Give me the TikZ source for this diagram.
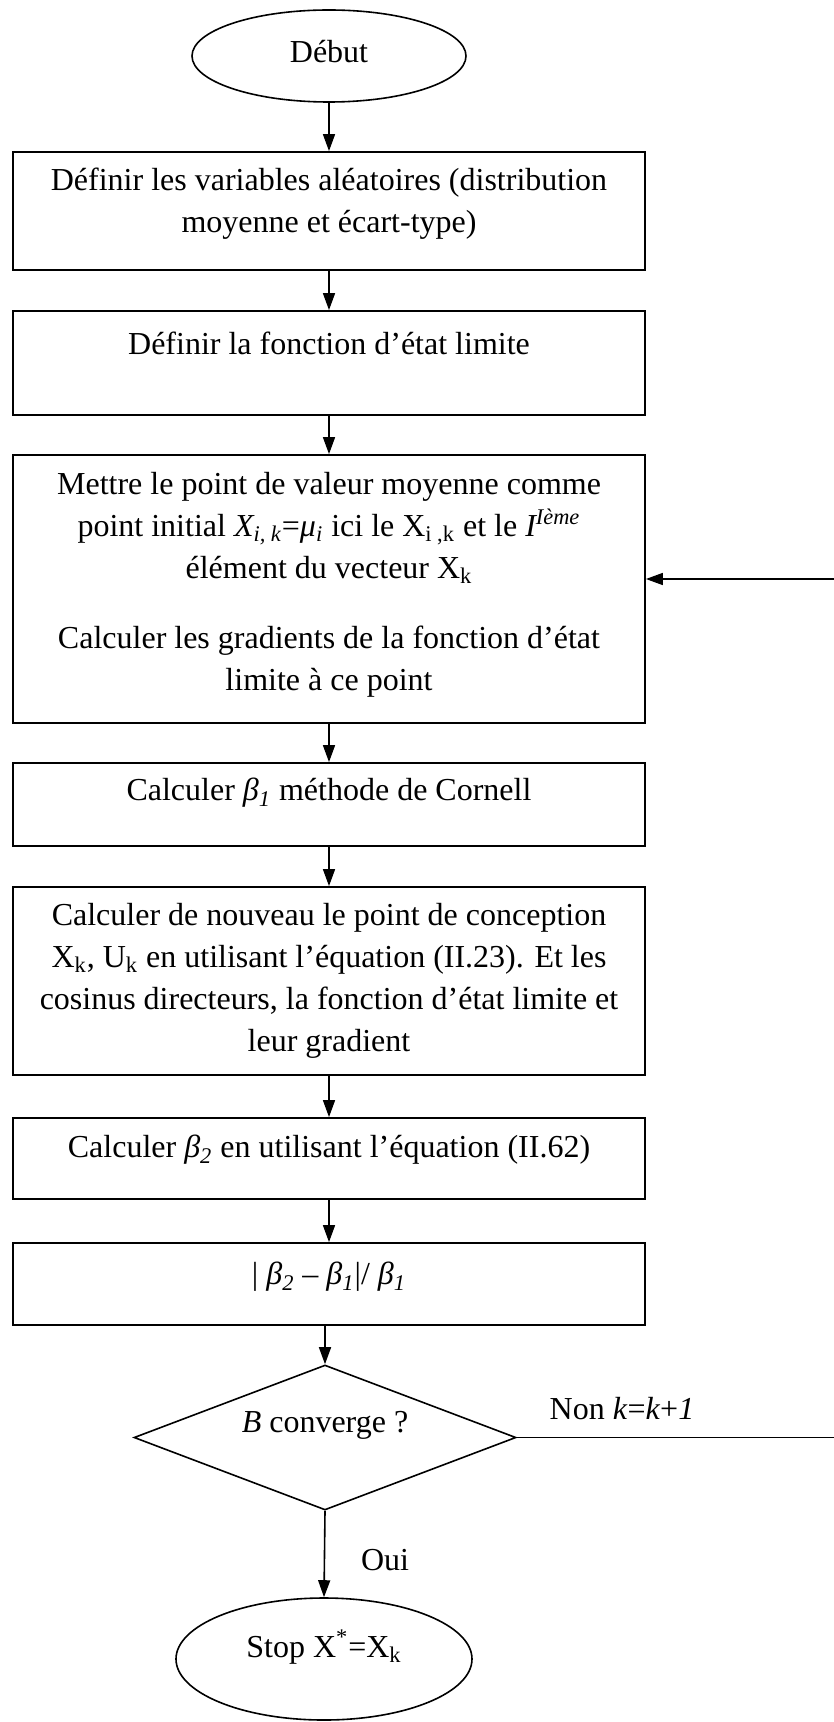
\documentclass[tikz,border=0pt]{standalone}
\usepackage{fontspec}
\setmainfont{Liberation Serif}
\usetikzlibrary{shapes.geometric,arrows.meta}
\begin{document}
\begin{tikzpicture}[x=0.5pt,y=-0.5pt]
\tikzset{
 flowbox/.style={draw, line width=0.9pt, rectangle, inner sep=0pt, minimum width=316pt},
 txt/.style={align=center, font=\fontsize{16}{21}\selectfont, inner sep=0pt},
 conn/.style={line width=0.8pt, -{Triangle[length=8.5pt,width=6pt]}},
 plainline/.style={line width=0.8pt},
 term/.style={draw, ellipse, line width=0.8pt, inner sep=0pt},
 decision/.style={draw, diamond, line width=0.8pt, inner sep=0pt},
}
\useasboundingbox (0,0) rectangle (834,1722);
% start
\node[term, minimum width=137pt, minimum height=46pt] (start) at (329,56) {};
\node[txt] (tstart) at (329,52) {Début};
% boxes
\node[flowbox, minimum height=59pt] (b1) at (329,211) {};
\node[txt] (t1) at (329,204) {Définir les variables aléatoires (distribution\\moyenne et écart-type)};
\node[flowbox, minimum height=52pt] (b2) at (329,363) {};
\node[txt] (t2) at (329,343) {Définir la fonction d’état limite};
\node[flowbox, minimum height=134pt] (b3) at (329,589) {};
\node[txt] (t3) at (329,585) {Mettre le point de valeur moyenne comme\\
point initial \textit{X\textsubscript{i, k}}=\textit{μ\textsubscript{i}} ici le X\textsubscript{i ,k} et le \textit{I\textsuperscript{Ième}}\\
élément du vecteur X\textsubscript{k}\\[14pt]
Calculer les gradients de la fonction d’état\\
limite à ce point};
\node[flowbox, minimum height=41.5pt] (b4) at (329,804.5) {};
\node[txt] (t4) at (329,793) {Calculer \textit{β\textsubscript{1}} méthode de Cornell};
\node[flowbox, minimum height=94pt] (b5) at (329,981) {};
\node[txt] (t5) at (329,981) {Calculer de nouveau le point de conception\\
X\textsubscript{k}, U\textsubscript{k} en utilisant l’équation (II.23). Et les\\
cosinus directeurs, la fonction d’état limite et\\
leur gradient};
\node[flowbox, minimum height=40.5pt] (b6) at (329,1158.5) {};
\node[txt] (t6) at (329,1150) {Calculer \textit{β\textsubscript{2}} en utilisant l’équation (II.62)};
\node[flowbox, minimum height=41pt] (b7) at (329,1284) {};
\node[txt] (t7) at (329,1277) {| \textit{β\textsubscript{2}} – \textit{β\textsubscript{1}}|/ \textit{β\textsubscript{1}}};
% decision
\node[decision, minimum width=191pt, minimum height=72.5pt] (d) at (325,1437.5) {};
\node[txt] (td) at (325,1425) {\textit{B} converge ?};
% stop
\node[term, minimum width=148pt, minimum height=61pt] (stop) at (324,1659) {};
\node[txt] (tstop) at (324,1647) {Stop X\textsuperscript{*}=X\textsubscript{k}};
% labels
\node[txt] (lnon) at (622,1409) {Non \textit{k}=\textit{k}+\textit{1}};
\node[txt] (loui) at (385,1560) {Oui};
% connectors
\draw[conn] (start.south |- start.south) -- (start.south |- b1.north);
\draw[conn] (b1.south) -- (b2.north);
\draw[conn] (b2.south) -- (b3.north);
\draw[conn] (b3.south) -- (b4.north);
\draw[conn] (b4.south) -- (b5.north);
\draw[conn] (b5.south) -- (b6.north);
\draw[conn] (b6.south) -- (b7.north);
\draw[conn] (d.north |- b7.south) -- (d.north);
\draw[conn] (d.south) -- (stop.north);
\coordinate (redgelow) at (834,1437.5);
\coordinate (redgehigh) at (834,579);
\draw[plainline] (d.east) -- (redgelow);
\draw[conn] (redgehigh) -- (b3.east |- redgehigh);
\end{tikzpicture}
\end{document}
